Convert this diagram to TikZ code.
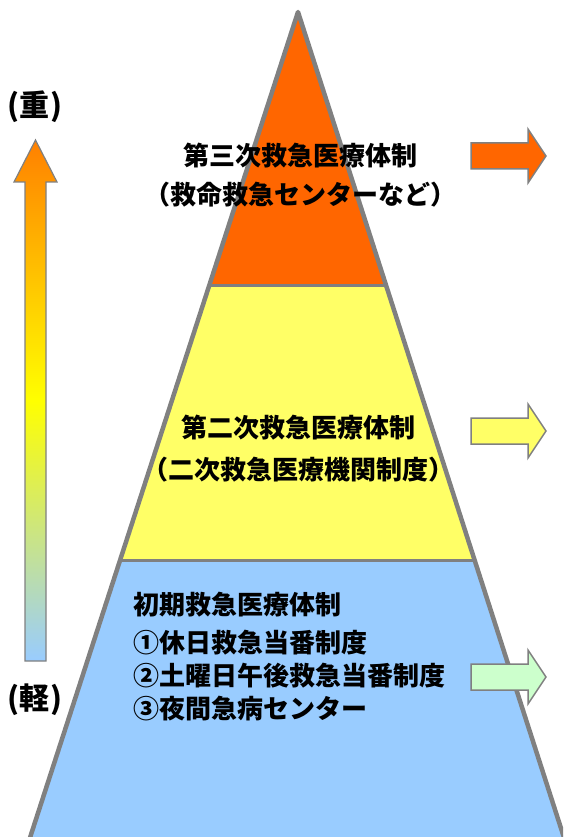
\documentclass[tikz,border=0pt]{standalone}
\usepackage{fontspec}
\setmainfont{Noto Sans CJK JP}
\definecolor{lvthree}{HTML}{FF6600}
\definecolor{lvtwo}{HTML}{FFFF66}
\definecolor{lvone}{HTML}{99CCFF}
\definecolor{arrowone}{HTML}{CCFFCC}
\definecolor{heavy}{HTML}{FF8000}
\begin{document}
\begin{tikzpicture}[x=1pt, y=-1pt,
  edge/.style={draw=gray, line width=4.5pt, line join=round},
  sep/.style={draw=gray, line width=3pt},
  arrowbox/.style={draw=gray, line width=1.5pt},
  lbl/.style={font=\fontsize{26}{30}\selectfont\bfseries, inner sep=0pt},
  biglbl/.style={font=\fontsize{30}{34}\selectfont\bfseries, inner sep=0pt},
  ]
\useasboundingbox (0,0) rectangle (563,837);
\clip (0,0) rectangle (563,837);
\coordinate (apex) at (298,12);
\coordinate (l3) at (209,285);
\coordinate (r3) at (387,285);
\coordinate (l2) at (120,560);
\coordinate (r2) at (474,560);
\coordinate (bl) at (26,850);
\coordinate (br) at (568,850);
% pyramid
\fill[lvthree] (apex) -- (l3) -- (r3) -- cycle;
\fill[lvtwo] (l3) -- (r3) -- (r2) -- (l2) -- cycle;
\fill[lvone] (l2) -- (r2) -- (br) -- (bl) -- cycle;
\draw[sep] (l3) -- (r3);
\draw[sep] (l2) -- (r2);
\draw[edge] (bl) -- (apex) -- (br);
% arrows on the right
\foreach \y/\c in {156/lvthree, 431/lvtwo, 677/arrowone}
{
    \draw[arrowbox, fill=\c] (471,\y-13) -- (528,\y-13) -- (528,\y-27) -- (546,\y)
        -- (528,\y+27) -- (528,\y+13) -- (471,\y+13) -- cycle;
}
% scale arrow
\shadedraw[arrowbox, line width=1.2pt, top color=heavy, bottom color=lvone, middle color=yellow]
    (25,661) -- (25,182) -- (14,182) -- (35.5,140) -- (57,182) -- (46,182) -- (46,661) -- cycle;
\node[biglbl] (heavylbl) at (35,107) {(重)};
\node[biglbl] (lightlbl) at (35,700) {(軽)};
% texts
\node[lbl] (third) at (300,156) {第三次救急医療体制};
\node[lbl] (thirdsub) at (300,195) {（救命救急センターなど）};
\node[lbl] (second) at (298,428) {第二次救急医療体制};
\node[lbl] (secondsub) at (298,470) {（二次救急医療機関制度）};
\node[lbl, anchor=west] (first) at (133,605) {初期救急医療体制};
\node[lbl, anchor=west] (firsta) at (133,643) {①休日救急当番制度};
\node[lbl, anchor=west] (firstb) at (133,676) {②土曜日午後救急当番制度};
\node[lbl, anchor=west] (firstc) at (133,709) {③夜間急病センター};
\end{tikzpicture}
\end{document}
